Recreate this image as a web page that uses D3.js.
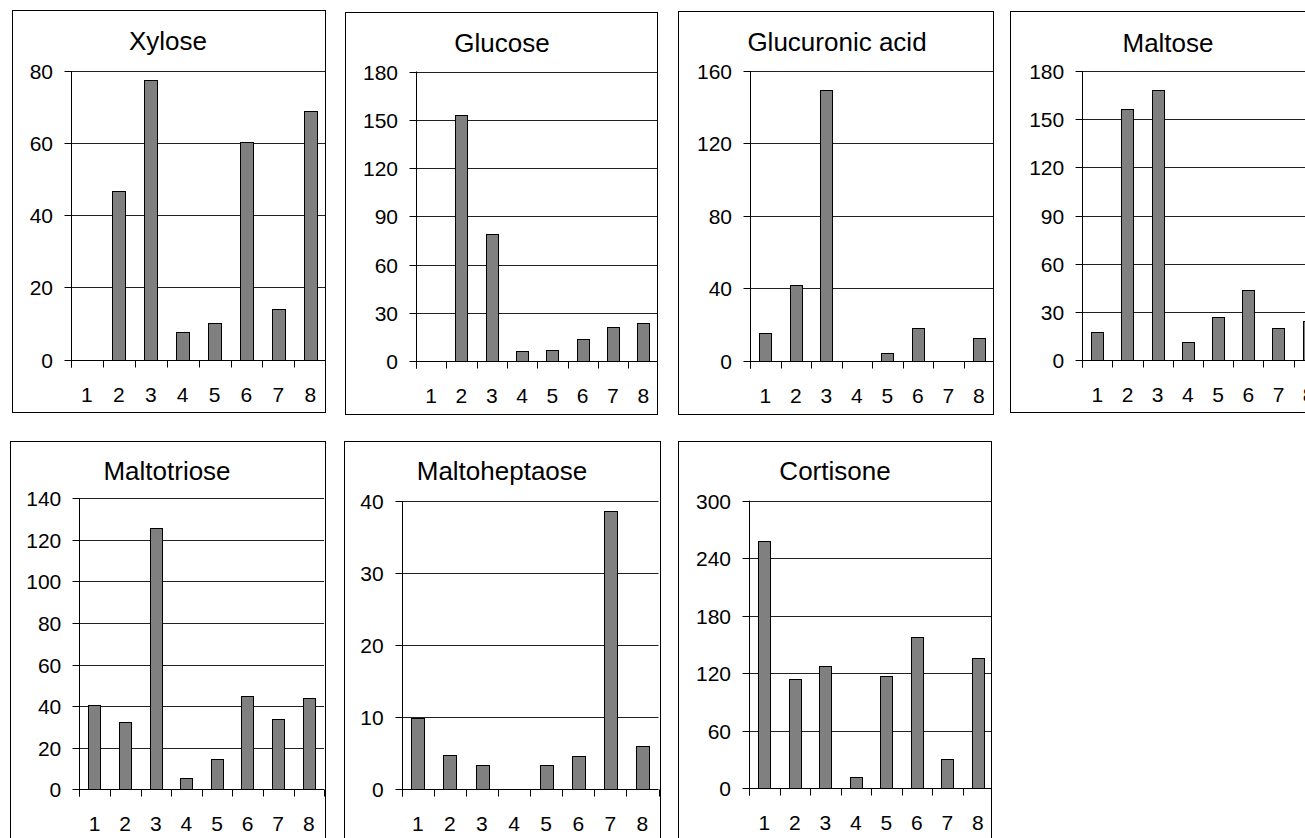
<!DOCTYPE html>
<html>
<head>
<meta charset="utf-8">
<script src="https://cdn.jsdelivr.net/npm/d3@7"></script>
<style>
	body { margin: 0; background: #fff; }
	svg text { font-family: "Liberation Sans", Arial, sans-serif; fill: #000; }
	.title { font-size: 26px; }
	.tick-label { font-size: 21px; }
</style>
</head>
<body>
<div id="graphic"></div>
<script>
// =========================================
// small multiples: 7 excel-style bar charts
// =========================================

var categories = ['1', '2', '3', '4', '5', '6', '7', '8'];

var titles = ['Xylose', 'Glucose', 'Glucuronic acid', 'Maltose',
	'Maltotriose', 'Maltoheptaose', 'Cortisone'];

var xyloseValues        = [0, 46.8, 77.5, 7.5, 10.2, 60.3, 13.9, 69.0];
var glucoseValues       = [0, 153.0, 78.8, 6.4, 7.1, 13.5, 21.2, 23.4];
var glucuronicValues    = [15.1, 41.5, 149.5, 0, 4.2, 17.9, 0, 12.7];
var maltoseValues       = [17.6, 156.6, 168.2, 11.2, 26.8, 44.0, 20.1, 24.7];
var maltotrioseValues   = [40.4, 32.5, 125.9, 5.5, 14.6, 44.9, 33.7, 43.9];
var maltoheptaoseValues = [9.85, 4.76, 3.33, 0, 3.33, 4.62, 38.66, 6.06];
var cortisoneValues     = [257.9, 113.7, 127.9, 12.2, 116.8, 157.5, 30.6, 135.6];

var xyloseTicks        = [0, 20, 40, 60, 80];
var glucoseTicks       = [0, 30, 60, 90, 120, 150, 180];
var glucuronicTicks    = [0, 40, 80, 120, 160];
var maltoseTicks       = [0, 30, 60, 90, 120, 150, 180];
var maltotrioseTicks   = [0, 20, 40, 60, 80, 100, 120, 140];
var maltoheptaoseTicks = [0, 10, 20, 30, 40];
var cortisoneTicks     = [0, 60, 120, 180, 240, 300];

// layout of each panel (box edges + plot area), px
var layout = [
	{box: [12.5, 10.5, 325.5, 412.5],  x0: 71,     step: 31.9, yTop: 71,    yZero: 359.5, titleX: 168,  titleY: 50},
	{box: [345.5, 12.5, 657.5, 414.5], x0: 416,    step: 30.3, yTop: 71.5,  yZero: 361,   titleX: 502,  titleY: 52},
	{box: [678.5, 11.5, 993.5, 414.5], x0: 750,    step: 30.5, yTop: 71,    yZero: 360.5, titleX: 837,  titleY: 51},
	{box: [1010.5, 11.5, 1320, 412.5], x0: 1082.2, step: 30.2, yTop: 71,    yZero: 360.3, titleX: 1168, titleY: 51.5},
	{box: [10.5, 441.5, 325.5, 860],   x0: 79.3,   step: 30.6, yTop: 498.3, yZero: 789.3, titleX: 167,  titleY: 480},
	{box: [344.5, 441.5, 660.5, 860],  x0: 401.7,  step: 32.1, yTop: 501,   yZero: 789.3, titleX: 502,  titleY: 480},
	{box: [678.5, 441.5, 991.5, 860],  x0: 749,    step: 30.5, yTop: 500.7, yZero: 788.3, titleX: 835,  titleY: 479.5}
];

var allValues = [xyloseValues, glucoseValues, glucuronicValues, maltoseValues,
	maltotrioseValues, maltoheptaoseValues, cortisoneValues];
var allTicks = [xyloseTicks, glucoseTicks, glucuronicTicks, maltoseTicks,
	maltotrioseTicks, maltoheptaoseTicks, cortisoneTicks];

var width = 1305, height = 838;
var barColor = '#808080';
var tickLen = 7;

var svg = d3.select('#graphic').append('svg')
	.attr('width', width)
	.attr('height', height);

titles.forEach(function(title, i) {
	renderPanel({
		title: title,
		values: allValues[i],
		ticks: allTicks[i],
		lay: layout[i],
		id: i
	});
});

function renderPanel(config) {
	var lay = config.lay;
	var b = lay.box;
	var x1 = lay.x0 + lay.step * categories.length;

	var g = svg.append('g').attr('class', 'panel');

	// clip everything to the chart box
	svg.append('clipPath').attr('id', 'clip-' + config.id)
		.append('rect')
		.attr('x', b[0]).attr('y', b[1])
		.attr('width', b[2] - b[0]).attr('height', b[3] - b[1]);

	var inner = g.append('g').attr('clip-path', 'url(#clip-' + config.id + ')');

	var x = d3.scaleBand()
		.domain(categories)
		.range([lay.x0, x1])
		.paddingInner(0.6)
		.paddingOuter(0.3);

	var y = d3.scaleLinear()
		.domain([0, d3.max(config.ticks)])
		.range([lay.yZero, lay.yTop]);

	// gridlines
	inner.append('g').attr('class', 'grid')
		.selectAll('line')
		.data(config.ticks.filter(function(d) { return d > 0; }))
		.enter().append('line')
		.attr('x1', lay.x0).attr('x2', x1)
		.attr('y1', function(d) { return Math.round(y(d)) + 0.5; })
		.attr('y2', function(d) { return Math.round(y(d)) + 0.5; })
		.attr('stroke', '#222')
		.attr('stroke-width', 1);

	// bars
	inner.append('g').attr('class', 'bars')
		.selectAll('rect')
		.data(config.values.map(function(v, i) { return {cat: categories[i], val: v}; })
			.filter(function(d) { return d.val > 0; }))
		.enter().append('rect')
		.attr('x', function(d) { return Math.round(x(d.cat)) + 0.5; })
		.attr('width', Math.round(x.bandwidth()))
		.attr('y', function(d) { return Math.round(y(d.val)) + 0.5; })
		.attr('height', function(d) { return Math.round(y(0)) - Math.round(y(d.val)); })
		.attr('fill', barColor)
		.attr('stroke', '#000')
		.attr('stroke-width', 1);

	// x axis line + ticks at category boundaries
	var yz = Math.round(y(0)) + 0.5;
	var xa = inner.append('g').attr('class', 'axis axis-x');
	xa.append('line')
		.attr('x1', lay.x0).attr('x2', x1)
		.attr('y1', yz).attr('y2', yz)
		.attr('stroke', '#000');
	xa.selectAll('line.tk')
		.data(d3.range(categories.length + 1))
		.enter().append('line')
		.attr('class', 'tk')
		.attr('x1', function(i) { return Math.round(lay.x0 + i * x.step()) + 0.5; })
		.attr('x2', function(i) { return Math.round(lay.x0 + i * x.step()) + 0.5; })
		.attr('y1', yz).attr('y2', yz + tickLen)
		.attr('stroke', '#000');
	xa.selectAll('text')
		.data(categories)
		.enter().append('text')
		.attr('class', 'tick-label')
		.attr('text-anchor', 'middle')
		.attr('x', function(d) { return x(d) + x.bandwidth() / 2; })
		.attr('y', y(0) + 42)
		.text(function(d) { return d; });

	// y axis
	var ax = Math.round(lay.x0) + 0.5;
	var ya = inner.append('g').attr('class', 'axis axis-y');
	ya.append('line')
		.attr('x1', ax).attr('x2', ax)
		.attr('y1', y(d3.max(config.ticks))).attr('y2', yz + tickLen)
		.attr('stroke', '#000');
	var yt = ya.selectAll('g.tick')
		.data(config.ticks)
		.enter().append('g')
		.attr('class', 'tick')
		.attr('transform', function(d) { return 'translate(0,' + (Math.round(y(d)) + 0.5) + ')'; });
	yt.append('line')
		.attr('x1', ax - tickLen).attr('x2', ax)
		.attr('stroke', '#000');
	yt.append('text')
		.attr('class', 'tick-label')
		.attr('text-anchor', 'end')
		.attr('x', lay.x0 - 18)
		.attr('dy', 7.5)
		.text(function(d) { return d; });

	// title
	inner.append('text')
		.attr('class', 'title')
		.attr('text-anchor', 'middle')
		.attr('x', lay.titleX)
		.attr('y', lay.titleY)
		.text(config.title);

	// chart box
	g.append('rect')
		.attr('x', b[0]).attr('y', b[1])
		.attr('width', b[2] - b[0]).attr('height', b[3] - b[1])
		.attr('fill', 'none')
		.attr('stroke', '#000')
		.attr('stroke-width', 1);
}
</script>
</body>
</html>
